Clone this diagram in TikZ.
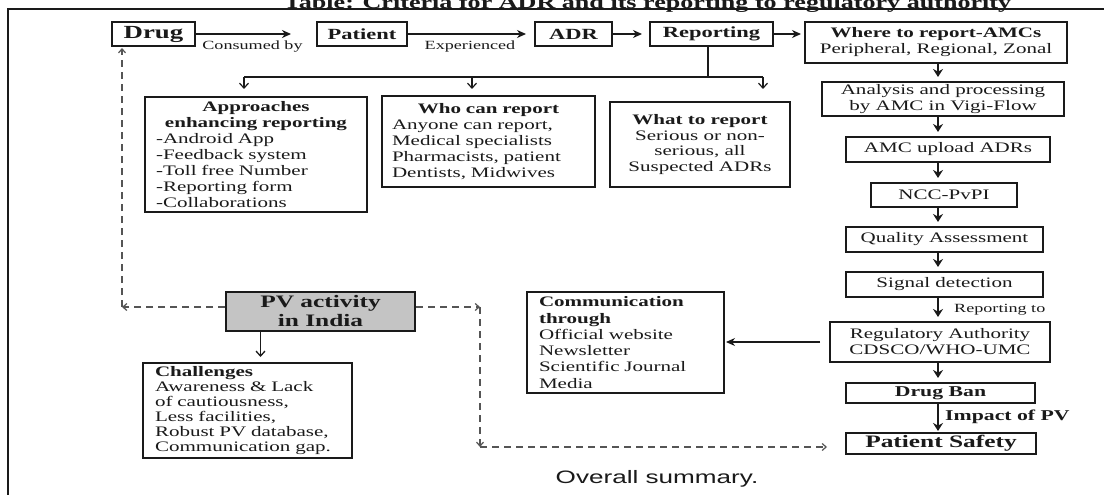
\documentclass[tikz,border=0pt]{standalone}
\usepackage{fontspec}
\setmainfont{Liberation Serif}[FakeStretch=1.45]
\newfontfamily\arlfont{Liberation Sans}[FakeStretch=1.45]
\usetikzlibrary{arrows.meta,calc}
\definecolor{ink}{HTML}{1A1A1A}
\definecolor{dashcol}{HTML}{555555}
\definecolor{pvgray}{HTML}{C4C4C4}
\begin{document}
\begin{tikzpicture}[x=1pt,y=-1pt,
  box/.style={draw=ink, line width=2pt, inner sep=0pt, text=ink, font=\fontsize{14.5}{16}\selectfont},
  tbox/.style={box, font=\bfseries\fontsize{15.5}{17}\selectfont, minimum height=24pt},
  lbl/.style={inner sep=0pt, text=ink, font=\fontsize{12.5}{14}\selectfont},
  harr/.style={draw=ink, line width=1.5pt, -{Stealth[length=9pt,width=8pt]}},
  carr/.style={draw=ink, line width=2pt, -{Stealth[length=8pt,width=10pt]}, shorten >=4pt},
  ln/.style={draw=ink, line width=1.2pt},
  barb/.style={draw=ink, line width=1.2pt, -{Straight Barb[length=5pt,width=9pt]}},
  dsh/.style={draw=dashcol, line width=1.2pt, dash pattern=on 7pt off 5pt, -{Straight Barb[length=4pt,width=7pt]}}
]
\path[use as bounding box, clip] (0,0) rectangle (1104,495);
\fill[white] (0,0) rectangle (1104,495);
% frame and title
\draw[ink, line width=1.2pt] (8,495) -- (8,9) -- (1104,9);
\node[inner sep=0pt, anchor=base, text=ink,
  font=\bfseries\fontsize{18}{20}\selectfont] (title) at (647.5,9)
  {Table: Criteria for ADR and its reporting to regulatory authority};

% top row
\node[tbox, font=\bfseries\fontsize{18.5}{20}\selectfont, minimum width=83pt] (drug) at (153.5,34) {Drug};
\node[tbox, minimum width=90pt] (patient) at (362,34) {Patient};
\node[tbox, minimum width=77pt] (adr) at (573.5,34) {ADR};
\node[tbox, minimum width=123pt] (rep) at (711.5,34) {Reporting};
\node[box, minimum width=262pt, minimum height=41pt, align=center] (where) at (936,42.5)
  {\textbf{Where to report-AMCs}\\Peripheral, Regional, Zonal};

\draw[harr, shorten >=25pt] (drug) -- (patient);
\draw[harr, shorten >=8pt] (patient) -- (adr);
\draw[harr, shorten >=7pt] (adr) -- (rep);
\draw[harr, shorten >=3pt] (rep.east) -- (rep.east -| where.west);
\node[lbl, anchor=base] (lcons) at (252.5,50) {Consumed by};
\node[lbl, anchor=base] (lexp) at (470,50) {Experienced};

% middle boxes
\node[box, minimum width=222pt, minimum height=115pt, text width=200pt, align=left] (appr) at (256,154.5)
  {\makebox[200pt]{\bfseries Approaches}\\\makebox[200pt]{\bfseries enhancing reporting}\\-Android App\\-Feedback system\\-Toll free Number\\-Reporting form\\-Collaborations};
\node[box, minimum width=213pt, minimum height=91pt, text width=193pt, align=left] (who) at (488.5,141.5)
  {\makebox[193pt]{\bfseries Who can report}\\Anyone can report,\\Medical specialists\\Pharmacists, patient\\Dentists, Midwives};
\node[box, minimum width=180pt, minimum height=85pt, align=center, font=\fontsize{14.5}{15.7}\selectfont] (what) at (700,144.5)
  {\textbf{What to report}\\Serious or non-\\serious, all\\Suspected ADRs};

% branch from Reporting
\coordinate (b0) at (708,77);
\coordinate (b1) at (244,77);
\coordinate (b2) at (472,77);
\coordinate (b3) at (763,77);
\draw[ln] (b0 |- rep.south) -- (b0);
\draw[ln] (b1) -- (b3);
\draw[barb, shorten >=7pt] (b1) -- (b1 |- appr.north);
\draw[barb, shorten >=6pt] (b2) -- (b2 |- who.north);
\draw[barb, shorten >=12pt] (b3) -- (b3 |- what.north);

% right column
\node[box, minimum width=242pt, minimum height=34pt, align=center] (ana) at (943,99)
  {Analysis and processing\\by AMC in Vigi-Flow};
\node[box, minimum width=204pt, minimum height=25pt] (amc) at (948,149.5) {AMC upload ADRs};
\node[box, minimum width=146pt, minimum height=24pt] (ncc) at (944,195) {NCC-PvPI};
\node[box, minimum width=197pt, minimum height=25pt] (qa) at (944.5,239.5) {Quality Assessment};
\node[box, minimum width=197pt, minimum height=25pt] (sig) at (944.5,284.5) {Signal detection};
\node[box, minimum width=220pt, minimum height=40pt, align=center] (reg) at (940,342)
  {Regulatory Authority\\CDSCO/WHO-UMC};
\node[box, minimum width=189pt, minimum height=20pt, font=\bfseries\fontsize{15}{17}\selectfont] (ban) at (940.5,393) {Drug Ban};
\node[box, minimum width=190pt, minimum height=21pt, font=\bfseries\fontsize{17.5}{19}\selectfont] (ps) at (941,443.5) {Patient Safety};

\coordinate (col) at (938,0);
\draw[carr] (where.south -| col) -- (ana.north -| col);
\draw[carr] (ana.south -| col) -- (amc.north -| col);
\draw[carr] (amc.south -| col) -- (ncc.north -| col);
\draw[carr] (ncc.south -| col) -- (qa.north -| col);
\draw[carr] (qa.south -| col) -- (sig.north -| col);
\draw[carr] (sig.south -| col) -- (reg.north -| col);
\draw[carr] (reg.south -| col) -- (ban.north -| col);
\draw[carr, shorten >=1pt] (ban.south -| col) -- (ps.north -| col);
\node[lbl, anchor=west] (lrep) at (954,310) {Reporting to};
\node[lbl, anchor=west, font=\bfseries\fontsize{15}{17}\selectfont] (limp) at (945,417) {Impact of PV};

% communication
\node[box, minimum width=197pt, minimum height=101pt, text width=173pt, align=left, font=\fontsize{14.5}{16.3}\selectfont] (comm) at (625.5,342.5)
  {\textbf{Communication}\\\textbf{through}\\Official website\\Newsletter\\Scientific Journal\\Media};
\draw[harr, line width=1.3pt, shorten <=9pt, shorten >=1pt] (reg.west) -- (reg.west -| comm.east);

% PV activity
\node[box, fill=pvgray, minimum width=189pt, minimum height=39pt, align=center, font=\bfseries\fontsize{17.5}{19}\selectfont] (pv) at (320.5,311.5)
  {PV activity\\in India};
\node[box, minimum width=209pt, minimum height=95pt, text width=185pt, align=left, font=\fontsize{14.5}{15}\selectfont] (chl) at (247.5,410.5)
  {\textbf{Challenges}\\Awareness \& Lack\\of cautiousness,\\Less facilities,\\Robust PV database,\\Communication gap.};
\draw[draw=ink, line width=1.3pt, -{Straight Barb[length=5pt,width=9pt]}, shorten >=5pt] ([xshift=-60pt]pv.south) -- ([xshift=-60pt]pv.south |- chl.north);

% dashed connectors
\coordinate (c1) at (122,307);
\coordinate (c2) at (480,307);
\coordinate (c3) at (480,447);
\draw[dsh] (c1 -| pv.west) -- (c1);
\draw[dsh, shorten >=1pt] (c1) -- (c1 |- drug.south);
\draw[dsh] (c2 -| pv.east) -- (c2);
\draw[dsh] (c2) -- (c3);
\draw[dsh, shorten >=18pt] (c3) -- (c3 -| ps.west);

% caption
\node[anchor=base, inner sep=0pt, text=ink, font=\arlfont\fontsize{18}{20}\selectfont] (cap) at (657,483) {Overall summary.};
\end{tikzpicture}
\end{document}
